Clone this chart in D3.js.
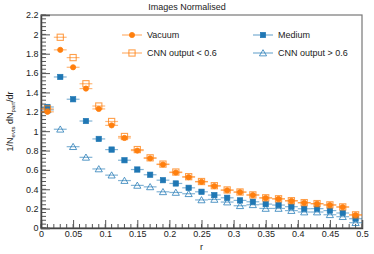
<!DOCTYPE html>
<html>
<head>
<meta charset="utf-8">
<script src="https://cdn.jsdelivr.net/npm/d3@7"></script>
<style>
  body { margin: 0; background: #fff; }
  svg text { font-family: "Liberation Sans", Arial, sans-serif; fill: #222; }
</style>
</head>
<body>
<div id="chart"></div>
<script>
// bin centres in r (bin width 0.02)
const rBins = [0.01, 0.03, 0.05, 0.07, 0.09, 0.11, 0.13, 0.15, 0.17, 0.19, 0.21, 0.23, 0.25,
               0.27, 0.29, 0.31, 0.33, 0.35, 0.37, 0.39, 0.41, 0.43, 0.45, 0.47, 0.49];

const vacuum = [1.20, 1.84, 1.66, 1.44, 1.23, 1.06, 0.93, 0.80, 0.72, 0.656, 0.573, 0.525, 0.477,
                0.433, 0.39, 0.37, 0.34, 0.31, 0.30, 0.28, 0.26, 0.25, 0.237, 0.216, 0.134];
const cnnLow = [1.23, 1.97, 1.76, 1.49, 1.26, 1.10, 0.945, 0.81, 0.725, 0.66, 0.578, 0.53, 0.48,
                0.437, 0.393, 0.372, 0.342, 0.312, 0.302, 0.282, 0.262, 0.252, 0.239, 0.218, 0.136];
const medium = [1.25, 1.56, 1.33, 1.105, 0.92, 0.81, 0.70, 0.604, 0.55, 0.494, 0.46, 0.415, 0.374,
                0.34, 0.312, 0.285, 0.271, 0.247, 0.237, 0.22, 0.199, 0.20, 0.18, 0.155, 0.096];
const cnnHigh = [1.22, 1.02, 0.84, 0.73, 0.61, 0.546, 0.49, 0.44, 0.425, 0.374, 0.367, 0.354, 0.29,
                 0.295, 0.268, 0.23, 0.24, 0.202, 0.202, 0.18, 0.165, 0.165, 0.137, 0.117, 0.055];

const xTicks = [0, 0.05, 0.1, 0.15, 0.2, 0.25, 0.3, 0.35, 0.4, 0.45, 0.5];
const yTicks = [0, 0.2, 0.4, 0.6, 0.8, 1, 1.2, 1.4, 1.6, 1.8, 2, 2.2];

const orange = "#ff7f0e", blue = "#1f77b4";

const series = [
  {name: "Vacuum", values: vacuum, color: orange, marker: "circle", open: false},
  {name: "Medium", values: medium, color: blue, marker: "square", open: false},
  {name: "CNN output < 0.6", values: cnnLow, color: orange, marker: "square", open: true},
  {name: "CNN output > 0.6", values: cnnHigh, color: blue, marker: "triangle", open: true}
];

const width = 374, height = 254;
const margin = {top: 15, right: 12, bottom: 26, left: 41};
const w = width - margin.left - margin.right;
const h = height - margin.top - margin.bottom;

const svg = d3.select("#chart").append("svg")
    .attr("width", width)
    .attr("height", height);

const plot = svg.append("g")
    .attr("transform", `translate(${margin.left},${margin.top})`);

const x = d3.scaleLinear().domain([0, 0.5]).range([0, w]);
const y = d3.scaleLinear().domain([0, 2.2]).range([h, 0]);

// frame
plot.append("rect")
    .attr("width", w).attr("height", h)
    .attr("fill", "none").attr("stroke", "#777").attr("stroke-width", 1.2);

// minor ticks
const xMinor = d3.range(0, 51).map(i => i / 100);
const yMinor = d3.range(0, 56).map(i => i * 0.04);

plot.append("g").selectAll("line").data(xMinor).join("line")
    .attr("x1", d => x(d)).attr("x2", d => x(d))
    .attr("y1", h).attr("y2", h - 4)
    .attr("stroke", "#555").attr("stroke-width", 1);
plot.append("g").selectAll("line").data(yMinor).join("line")
    .attr("x1", 0).attr("x2", 5)
    .attr("y1", d => y(d)).attr("y2", d => y(d))
    .attr("stroke", "#555").attr("stroke-width", 1);

// axes
const xAxis = d3.axisBottom(x).tickValues(xTicks).tickSize(-8).tickPadding(3)
    .tickFormat(d => d3.format("")(+d.toFixed(2)));
const yAxis = d3.axisLeft(y).tickValues(yTicks).tickSize(-9).tickPadding(2.5)
    .tickFormat(d => d3.format("")(+d.toFixed(1)));

const gx = plot.append("g").attr("transform", `translate(0,${h})`).call(xAxis);
const gy = plot.append("g").call(yAxis);
[gx, gy].forEach(g => {
  g.select(".domain").attr("stroke", "#444").attr("stroke-width", 1.5);
  g.selectAll(".tick line").attr("stroke", "#555");
  g.selectAll(".tick text").attr("font-size", 9).attr("fill", "#222");
});

// axis titles
svg.append("text")
    .attr("x", margin.left + w / 2).attr("y", 250)
    .attr("text-anchor", "middle").attr("font-size", 9)
    .text("r");

const yt = svg.append("text")
    .attr("transform", `translate(13,${margin.top + h / 2}) rotate(-90)`)
    .attr("text-anchor", "middle").attr("font-size", 9);
yt.append("tspan").text("1/N");
yt.append("tspan").attr("font-size", 6).attr("dy", 2).text("evts");
yt.append("tspan").attr("dy", -2).text(" dN");
yt.append("tspan").attr("font-size", 6).attr("dy", 2).text("part");
yt.append("tspan").attr("dy", -2).text("/dr");

// title
svg.append("text")
    .attr("x", 187).attr("y", 10)
    .attr("text-anchor", "middle").attr("font-size", 9)
    .text("Images Normalised");

function drawMarker(g, s, cx, cy) {
  const fill = s.open ? "#fff" : s.color;
  const op = s.open ? 0.75 : 1;
  if (s.marker === "circle") {
    g.append("circle").attr("cx", cx).attr("cy", cy).attr("r", 2.6)
        .attr("fill", fill).attr("stroke", s.color).attr("stroke-width", 0.8);
  } else if (s.marker === "square") {
    const size = s.open ? 6.2 : 5.4;
    g.append("rect").attr("x", cx - size / 2).attr("y", cy - size / 2)
        .attr("width", size).attr("height", size)
        .attr("fill", s.open ? "none" : fill).attr("stroke", s.color)
        .attr("stroke-width", s.open ? 1.1 : 0.6).attr("opacity", op);
  } else {
    g.append("path")
        .attr("d", d3.symbol(d3.symbolTriangle, 22)())
        .attr("transform", `translate(${cx},${cy + 0.8})`)
        .attr("fill", "none").attr("stroke", s.color).attr("stroke-width", 1)
        .attr("opacity", op);
  }
}

// draw series: error bars (bin width) + markers
const drawOrder = [series[3], series[1], series[2], series[0]];
drawOrder.forEach(s => {
  const g = plot.append("g");
  g.selectAll("line").data(rBins).join("line")
      .attr("x1", d => x(d - 0.01)).attr("x2", d => x(d + 0.01))
      .attr("y1", (d, i) => y(s.values[i])).attr("y2", (d, i) => y(s.values[i]))
      .attr("stroke", s.color).attr("stroke-width", 1.2).attr("opacity", 0.55);
  rBins.forEach((r, i) => drawMarker(g, s, x(r), y(s.values[i])));
});

// legend
const legendPos = [
  {s: series[0], x: 122, y: 35},
  {s: series[1], x: 253, y: 35},
  {s: series[2], x: 122, y: 53},
  {s: series[3], x: 253, y: 53}
];
legendPos.forEach(p => {
  const g = svg.append("g");
  g.append("line")
      .attr("x1", p.x).attr("x2", p.x + 20).attr("y1", p.y).attr("y2", p.y)
      .attr("stroke", p.s.color).attr("stroke-width", 1.1).attr("opacity", 0.65);
  drawMarker(g, p.s, p.x + 10, p.y);
  g.append("text")
      .attr("x", p.x + 25).attr("y", p.y + 3.2)
      .attr("font-size", 9)
      .text(p.s.name);
});
</script>
</body>
</html>
